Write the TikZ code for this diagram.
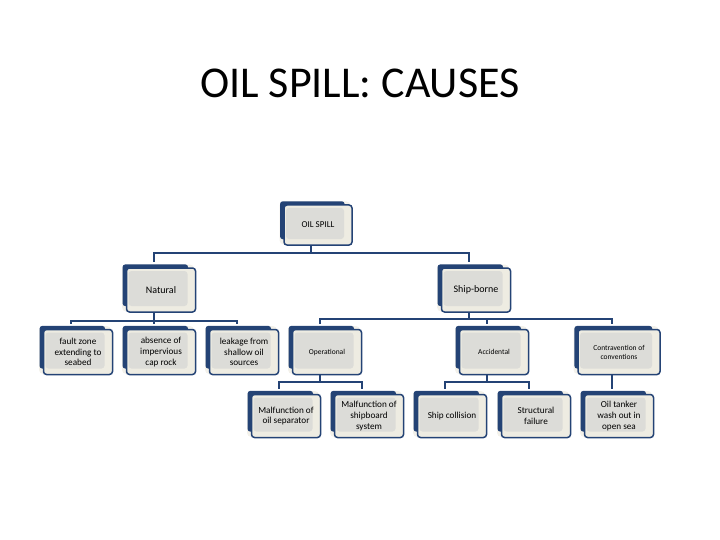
\documentclass[tikz,border=0pt]{standalone}
\usepackage{fontspec}
\setmainfont{Carlito}
\usetikzlibrary{shadows}
\definecolor{boxblue}{RGB}{36,67,117}
\definecolor{boxbeige}{RGB}{238,236,226}
\definecolor{boxgray}{RGB}{220,220,216}
\definecolor{boxhalo}{RGB}{243,241,234}
\tikzset{
  cause/.style={draw=boxblue, line width=1.5pt, fill=boxbeige, rounded corners=3pt,
    minimum width=69pt, minimum height=45pt, inner sep=2pt, align=center,
    font=\fontsize{9.2}{10.8}\selectfont,
    general shadow={fill=boxhalo, draw=boxhalo, line width=3pt, shadow xshift=-3pt, shadow yshift=2pt},
    general shadow={fill=boxblue, shadow xshift=-6pt, shadow yshift=5pt, shadow scale=0.95},
    path picture={\fill[boxgray] ([shift={(2pt,-3pt)}]path picture bounding box.north west)
      rectangle ([shift={(-8pt,6pt)}]path picture bounding box.south east);}},
  link/.style={draw=boxblue, line width=2.2pt}
}
\begin{document}
\begin{tikzpicture}[x=1pt, y=-1pt]
    \useasboundingbox (0,0) rectangle (720,540);
    \node[font=\fontsize{44}{52}\selectfont] (title) at (360,83) {OIL SPILL: CAUSES};

    % top and first level
    \node[cause, minimum width=68pt, minimum height=40pt, font=\fontsize{9}{10.8}\selectfont] (spill) at (318,225) {OIL SPILL};
    \node[cause, minimum height=44pt, font=\fontsize{10}{12}\selectfont] (natural) at (161,290) {Natural};
    \node[cause, minimum height=44pt, font=\fontsize{10}{12}\selectfont] (ship) at (476,290) {Ship-borne};

    % second level
    \node[cause] (fault) at (78,352) {fault zone\\extending to\\seabed};
    \node[cause] (absence) at (161,352) {absence of\\impervious\\cap rock};
    \node[cause] (leakage) at (244,352) {leakage from\\shallow oil\\sources};
    \node[cause, font=\fontsize{7.5}{9}\selectfont] (operational) at (327,352) {Operational};
    \node[cause, font=\fontsize{7.5}{9}\selectfont] (accidental) at (494,352) {Accidental};
    \node[cause, minimum width=82pt, font=\fontsize{7.5}{9}\selectfont] (contra) at (619,352) {Contravention of\\conventions};

    % third level
    \node[cause, minimum height=43pt] (separator) at (286,416) {Malfunction of\\oil separator};
    \node[cause, minimum height=43pt] (shipboard) at (369,416) {Malfunction of\\shipboard\\system};
    \node[cause, minimum height=43pt] (collision) at (452,416) {Ship collision};
    \node[cause, minimum height=43pt] (structural) at (536,416) {Structural\\failure};
    \node[cause, minimum height=43pt] (tanker) at (619,416) {Oil tanker\\wash out in\\open sea};

    % connectors
    \foreach \kid in {natural,ship}
        \draw[link] ([xshift=-7pt]spill.south) -- ++(0,7) -| ([xshift=-7pt,yshift=5pt]\kid.north);
    \foreach \kid in {fault,absence,leakage}
        \draw[link] ([xshift=-7pt]natural.south) -- ++(0,8) -| ([xshift=-7pt,yshift=5pt]\kid.north);
    \foreach \kid in {operational,accidental,contra}
        \draw[link] ([xshift=-7pt]ship.south) -- ++(0,6) -| ([xshift=-7pt,yshift=5pt]\kid.north);
    \foreach \kid in {separator,shipboard}
        \draw[link] ([xshift=-7pt]operational.south) -- ++(0,6.5) -| ([xshift=-7pt,yshift=5pt]\kid.north);
    \foreach \kid in {collision,structural}
        \draw[link] ([xshift=-7pt]accidental.south) -- ++(0,6.5) -| ([xshift=-7pt,yshift=5pt]\kid.north);
    \draw[link] ([xshift=-7pt]contra.south) -- ([xshift=-7pt,yshift=5pt]tanker.north);
\end{tikzpicture}
\end{document}
